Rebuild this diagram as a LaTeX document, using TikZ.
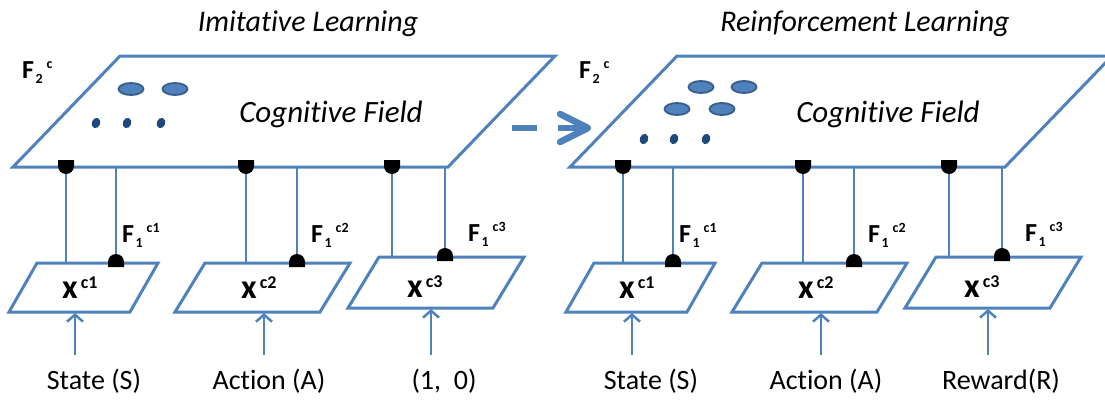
\documentclass[tikz,border=0pt]{standalone}
\usepackage{fontspec}
\setmainfont{Carlito}[RawFeature=-liga]
\usetikzlibrary{arrows.meta,calc}
\definecolor{ob}{HTML}{4F81BD}
\definecolor{obd}{HTML}{385D8A}
\definecolor{navy}{HTML}{1F497D}
\newcommand{\fsz}[1]{\fontsize{#1}{#1}\selectfont}
\newcommand{\xlab}[1]{{\fsz{34}\bfseries x}\hspace{3pt}\raisebox{10pt}{\fsz{18}\bfseries #1}}
\newcommand{\Flab}[2]{{\fsz{26}\bfseries F}\hspace{1.5pt}\raisebox{-5pt}{\fsz{14}\bfseries #1}\hspace{4pt}\raisebox{10pt}{\fsz{14}\bfseries #2}}
\tikzset{
  field/.style={draw=ob, line width=3pt, line join=miter},
  link/.style={draw=ob, line width=1.3pt},
  inarrow/.style={draw=ob, line width=2.5pt, -{Straight Barb[length=7pt,width=16pt]}},
  lbl/.style={inner sep=0pt, anchor=base},
  lblw/.style={inner sep=0pt, anchor=base west},
  blob/.style={fill=ob, draw=obd, line width=1.8pt},
  dotb/.style={fill=navy},
  bullet/.style={fill=black},
}
\newcommand{\mypanel}[4]{%
  \path[field] (120,56) -- (555,56) -- (448,167) -- (13,167) -- cycle;
  \path[field] (37,263) -- (158,263) -- (130,312) -- (9,312) -- cycle;
  \path[field] (205,263) -- (350,263) -- (320,312) -- (175,312) -- cycle;
  \path[field] (379,257) -- (524,257) -- (493,308) -- (348,308) -- cycle;
  \node[lbl] (#1-title) at (308,31) {\fsz{30}\itshape #2};
  \node[lbl] (#1-cf) at (331,122) {\fsz{31}\itshape Cognitive Field};
  \node[lblw] (#1-F2) at (22,78) {\Flab{2}{c}};
  \node[lblw] (#1-F1a) at (122,242) {\Flab{1}{c1}};
  \node[lblw] (#1-F1b) at (311,242) {\Flab{1}{c2}};
  \node[lblw] (#1-F1c) at (468,241) {\Flab{1}{c3}};
  \node[lblw] (#1-x1) at (62,298) {\xlab{c1}};
  \node[lblw] (#1-x2) at (241,298) {\xlab{c2}};
  \node[lblw] (#1-x3) at (407,297) {\xlab{c3}};
  \coordinate (#1-t1) at (66,167);  \coordinate (#1-b1) at (66,263);
  \coordinate (#1-t2) at (116,167); \coordinate (#1-b2) at (116,263);
  \coordinate (#1-t3) at (246,167); \coordinate (#1-b3) at (246,263);
  \coordinate (#1-t4) at (297,167); \coordinate (#1-b4) at (297,263);
  \coordinate (#1-t5) at (392,167); \coordinate (#1-b5) at (392,257);
  \coordinate (#1-t6) at (445,167); \coordinate (#1-b6) at (445,257);
  \foreach \i in {1,...,6} {\draw[link] (#1-t\i) -- (#1-b\i);}
  \foreach \i in {1,3,5} {\fill[bullet] ($(#1-t\i)+(-8,-7)$) -- ++(16,0) -- ++(0,6) arc[start angle=0,end angle=-180,radius=8pt] -- cycle;}
  \foreach \i in {2,4,6} {\fill[bullet] ($(#1-b\i)+(-8,4)$) -- ++(16,0) -- ++(0,-5) arc[start angle=0,end angle=180,radius=8pt] -- cycle;}
  \node[lbl] (#1-in1) at (94,389) {\fsz{28}State (S)};
  \node[lbl] (#1-in2) at (269,389) {\fsz{28}Action (A)};
  \node[lbl] (#1-in3) at (444,389) {\fsz{28}#3};
  \coordinate (#1-a1s) at (75,355);  \coordinate (#1-a1e) at (75,313);
  \coordinate (#1-a2s) at (264,355); \coordinate (#1-a2e) at (264,313);
  \coordinate (#1-a3s) at (431,355); \coordinate (#1-a3e) at (431,309);
  \foreach \i in {1,2,3} {\draw[inarrow] (#1-a\i s) -- (#1-a\i e);}
}
\begin{document}
\begin{tikzpicture}[x=1pt,y=-1pt]
\useasboundingbox (0,0) rectangle (1105,399);
\begin{scope}
  \mypanel{L}{Imitative Learning}{(1,\ \ 0)}{}
  \path[blob] (131,89) ellipse[x radius=12.5pt, y radius=6pt];
  \path[blob] (175,89) ellipse[x radius=12.5pt, y radius=6pt];
  \foreach \xx in {96,127,161} {\path[dotb] (\xx,123) ellipse[x radius=4.2pt, y radius=5.3pt, rotate=-20];}
\end{scope}
\begin{scope}[xshift=557pt]
  \mypanel{R}{Reinforcement Learning}{Reward(R)}{}
  \path[blob] (144,87) ellipse[x radius=12.5pt, y radius=6pt];
  \path[blob] (187,87) ellipse[x radius=12.5pt, y radius=6pt];
  \path[blob] (120,109) ellipse[x radius=12.5pt, y radius=6pt];
  \path[blob] (165,109) ellipse[x radius=12.5pt, y radius=6pt];
  \foreach \xx in {87,117,149} {\path[dotb] (\xx,139) ellipse[x radius=4.2pt, y radius=5.3pt, rotate=-20];}
\end{scope}
\coordinate (d1) at (512,128); \coordinate (d2) at (537,128);
\coordinate (a1) at (558,128); \coordinate (a2) at (588,128);
\draw[ob, line width=6.5pt] (d1) -- (d2);
\draw[ob, line width=6.5pt] (a1) -- (a2);
\draw[ob, line width=6.5pt, line join=round, line cap=round] ($(a2)+(-28,-14)$) -- (a2) -- ($(a2)+(-28,14)$);
\end{tikzpicture}
\end{document}
